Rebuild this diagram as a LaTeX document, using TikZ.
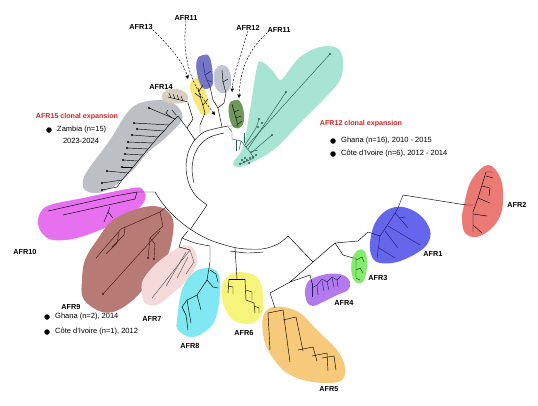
\documentclass[tikz,border=0pt]{standalone}
\usepackage{fontspec}
\setmainfont{Liberation Sans}
\usetikzlibrary{arrows.meta}
\definecolor{cgray}{RGB}{188,191,196}
\definecolor{ctan}{RGB}{216,207,192}
\definecolor{cyel}{RGB}{248,230,120}
\definecolor{cind}{RGB}{118,118,200}
\definecolor{cgrs}{RGB}{192,196,206}
\definecolor{cdgr}{RGB}{112,152,92}
\definecolor{cteal}{RGB}{168,228,210}
\definecolor{cmag}{RGB}{230,112,240}
\definecolor{cbrn}{RGB}{184,122,116}
\definecolor{cpnk}{RGB}{246,218,218}
\definecolor{ccyn}{RGB}{128,232,242}
\definecolor{cyel6}{RGB}{246,244,122}
\definecolor{corg}{RGB}{246,202,122}
\definecolor{cpur}{RGB}{178,122,236}
\definecolor{cgrn}{RGB}{134,236,112}
\definecolor{cblu}{RGB}{102,102,236}
\definecolor{cred}{RGB}{236,122,116}
\definecolor{ctitle}{RGB}{214,36,36}
\definecolor{dteal}{RGB}{40,95,85}
\definecolor{dnavy}{RGB}{30,30,110}
\definecolor{dbrn}{RGB}{70,25,25}
\begin{document}
\begin{tikzpicture}[x=1pt,y=-1pt,
  tree/.style={line width=0.45pt,black},
  lab/.style={font=\fontsize{7.3}{8}\selectfont\bfseries,inner sep=0pt},
  ttl/.style={font=\fontsize{7.1}{8}\selectfont\bfseries,text=ctitle,inner sep=0pt},
  leg/.style={font=\fontsize{7.5}{8}\selectfont,inner sep=0pt,anchor=west},
  bul/.style={circle,fill=black,inner sep=0pt,minimum size=5.5pt},
  tipdot/.style={circle,fill=black,inner sep=0pt,minimum size=2.4pt},
  arr/.style={line width=0.45pt,dash pattern=on 2pt off 1.6pt,-{Triangle[width=3.4pt,length=3.4pt]}}]
\useasboundingbox (0,0) rectangle (538,405);
\fill[white] (0,0) rectangle (538,405);
% ---------------- blobs
\fill[cgray] plot[smooth cycle,tension=0.6] coordinates {(83,180)(90,167)(110,140)(127,113)(140,103)(160,100)(173,103)(182,113)(180,123)(163,140)(147,153)(133,170)(113,187)(97,193)(85,190)};
\fill[ctan] plot[smooth cycle,tension=0.7] coordinates {(162,95)(167,90)(177,89)(186,93)(188,99)(182,103)(170,103)(163,100)};
\fill[cyel] plot[smooth cycle,tension=0.7] coordinates {(190,85)(196,78)(202,82)(208,100)(210,112)(203,115)(197,107)(192,95)};
\fill[cind] plot[smooth cycle,tension=0.7] coordinates {(197,60)(203,55)(210,58)(213,80)(210,88)(202,87)(197,73)};
\fill[cgrs] plot[smooth cycle,tension=0.7] coordinates {(215,70)(222,65)(229,70)(231,85)(225,93)(217,90)(214,80)};
\fill[cdgr] plot[smooth cycle,tension=0.7] coordinates {(229,105)(235,100)(241,103)(244,115)(242,126)(235,128)(230,120)};
\fill[cteal] plot[smooth cycle,tension=0.6] coordinates {(233,163)(243,147)(250,110)(257,67)(262,62)(272,70)(280,80)(287,73)(300,57)(320,47)(337,48)(343,60)(340,80)(323,100)(300,123)(277,147)(257,160)(240,167)};
\fill[cmag] plot[smooth cycle,tension=0.6] coordinates {(40,213)(50,205)(83,198)(133,188)(143,190)(145,200)(133,213)(107,227)(77,238)(53,240)(42,233)(38,223)};
\fill[cbrn] plot[smooth cycle,tension=0.6] coordinates {(82,280)(85,260)(97,240)(113,220)(140,208)(160,207)(172,217)(173,233)(167,257)(153,277)(133,300)(113,312)(97,310)(83,298)};
\fill[cpnk] plot[smooth cycle,tension=0.6] coordinates {(143,280)(157,263)(180,247)(193,248)(197,263)(187,280)(173,293)(157,305)(145,303)(142,293)};
\fill[ccyn] plot[smooth cycle,tension=0.6] coordinates {(177,320)(182,290)(193,273)(207,268)(218,273)(220,293)(215,320)(203,333)(190,337)(178,330)};
\fill[cyel6] plot[smooth cycle,tension=0.6] coordinates {(222,287)(227,277)(240,272)(257,277)(263,293)(262,313)(253,323)(240,323)(230,317)(223,303)};
\fill[corg] plot[smooth cycle,tension=0.6] coordinates {(263,317)(270,308)(283,307)(300,313)(317,330)(337,350)(345,367)(342,380)(327,383)(303,380)(283,370)(268,350)(263,333)};
\fill[cpur] plot[smooth cycle,tension=0.6] coordinates {(305,290)(310,280)(327,274)(343,275)(350,282)(348,290)(337,295)(323,302)(313,306)(307,302)};
\fill[cgrn] plot[smooth cycle,tension=0.7] coordinates {(352,260)(358,250)(365,252)(367,265)(364,280)(357,283)(352,275)};
\fill[cblu] plot[smooth cycle,tension=0.6] coordinates {(370,243)(375,223)(387,210)(403,207)(420,215)(430,230)(428,243)(417,253)(397,262)(380,263)(372,257)};
\fill[cred] plot[smooth cycle,tension=0.6] coordinates {(463,210)(470,183)(483,167)(493,167)(502,183)(502,210)(493,227)(477,237)(465,233)(462,220)};
% ---------------- backbone
\draw[tree] plot[smooth] coordinates {(218,128)(204,132)(194,141)(188,153)(186,168)(189,184)(196,196)(207,205)};
\draw[tree] plot[smooth] coordinates {(224,133)(210,137)(200,145)(194,156)(192,170)(194,183)};
\draw[tree] (218,128) -- (228,126) -- (238,126);
\draw[tree] (207,205) -- (190,230);
\draw[tree] plot[smooth] coordinates {(155,192)(163,204)(175,217)(190,229)(210,240)(237,248)(262,249)(278,244)(288,236)};
\draw[tree] plot[smooth] coordinates {(230,251)(247,253)(263,252)};
\draw[tree] plot[smooth] coordinates {(182,238)(195,243)(210,246)};
\draw[tree] (188,231) -- (182,238);
% ---------------- top subtree
\draw[tree] (195,140) -- (187,128) -- (178,116);
\draw[tree] (187,128) -- (193,119) -- (188,103);
\draw[tree] (200,133) -- (200,125) -- (205,113);
\draw[tree] (222,127) -- (218,108) -- (213,100) -- (210,87);
\draw[tree] (218,108) -- (224,103) -- (226,93);
% AFR15 ladder
\draw[tree] (178,116) -- (175,119) -- (169,125) -- (164,131) -- (158,137) -- (153,143) -- (148,149) -- (143,155) -- (138,161) -- (133,167) -- (128,173) -- (122,180) -- (117,187);
\foreach \px/\py/\tx/\ty in {175/119/149/108, 169/125/134/123, 164/131/137/129, 158/137/132/135, 153/143/128/142, 148/149/127/148, 143/155/125/154, 138/161/123/160, 133/167/122/167, 128/173/107/171, 122/180/102/183, 117/187/102/190}{
  \draw[tree] (\px,\py) -- (\tx,\ty);
  \node[tipdot] at (\tx,\ty) {};
}
\draw[tree] (176,115) -- (172,110); \draw[tree] (172,118) -- (166,113) -- (168,110);
% AFR14
\draw[tree] (188,102) -- (168,97);
\foreach \xx/\yy in {171/98, 175/99, 179/100, 183/101}{\draw[tree] (\xx,\yy) -- (\xx-2,\yy-5);}
% AFR13
\draw[tree] (205,113) -- (198,88);
\draw[tree] (203,105) -- (208,99); \draw[tree] (201,98) -- (195,93); \draw[tree] (199,91) -- (203,85);
% AFR11 indigo
\draw[tree,dnavy] (210,87) -- (205,75) -- (203,62); \draw[tree,dnavy] (205,75) -- (211,71); \draw[tree,dnavy] (207,80) -- (212,82);
% small gray
\draw[tree] (226,93) -- (223,82) -- (222,70); \draw[tree] (223,82) -- (228,79);
% AFR12 green
\draw[tree] (238,126) -- (236,118) -- (233,108) -- (232,104);
\draw[tree] (236,118) -- (241,116); \draw[tree] (234,112) -- (239,110); \draw[tree] (238,124) -- (242,121);
% teal
\draw[tree,dteal] (228,127) -- (232,132) -- (232,139) -- (241,141) -- (250,152) -- (254,158);
\draw[tree,dteal] (246,147) -- (330,54);
\draw[tree,dteal] (248,149) -- (286,92);
\draw[tree,dteal] (251,153) -- (272,135);
\draw[tree,dteal] (245,145) -- (256,128) -- (259,119);
\draw[tree,dteal] (236,140) -- (236,151); \draw[tree,dteal] (244,133) -- (244,143); \draw[tree,dteal] (241,141) -- (239,150);
\draw[tree,dteal] (254,158) -- (240,164); \draw[tree,dteal] (250,152) -- (258,150);
\foreach \xx/\yy in {330/54, 286/92, 272/135, 259/119, 262/123, 258/127, 240/164, 244/162, 247/160, 250/158, 253/157, 245/158, 256/155, 249/163, 242/160}{
  \node[tipdot,fill=dteal] at (\xx,\yy) {};
}
% ---------------- AFR10
\draw[tree] (155,192) -- (137,192) -- (115,196) -- (48,211);
\draw[tree] (137,192) -- (135,199) -- (63,215);
\draw[tree] (110,207) -- (108,212) -- (104,222); \draw[tree] (108,212) -- (113,218);
% AFR9
\draw[tree,dbrn] (166,207) -- (160,212) -- (121,229) -- (96,258);
\draw[tree,dbrn] (125,227) -- (124,235) -- (112,247); \draw[tree,dbrn] (119,232) -- (117,243) -- (106,254);
\draw[tree,dbrn] (160,212) -- (163,226) -- (150,238) -- (148,258);
\draw[tree,dbrn] (150,238) -- (155,244) -- (154,259);
\draw[tree,dbrn] (160,231) -- (103,294);
\node[tipdot,fill=dbrn] at (148,258) {}; \node[tipdot,fill=dbrn] at (154,259) {}; \node[tipdot,fill=dbrn] at (103,294) {};
% AFR7
\draw[tree] (182,238) -- (179,247) -- (190,250);
\draw[tree,black!65] (190,250) -- (152,298); \draw[tree,black!65] (186,252) -- (166,286);
\draw[tree,black!65] (188,257) -- (177,278); \draw[tree,black!65] (190,250) -- (194,262) -- (186,274);
% AFR8
\draw[tree] (210,246) -- (210,262) -- (207,280) -- (197,295) -- (187,300) -- (182,307);
\draw[tree] (207,280) -- (213,287) -- (218,288); \draw[tree] (210,270) -- (216,274) -- (218,282);
\draw[tree] (197,295) -- (201,310); \draw[tree] (187,300) -- (191,323); \draw[tree] (182,307) -- (186,315) -- (188,330);
% AFR6
\draw[tree] (235,248) -- (237,279);
\draw[tree] (229,279) -- (245,279);
\draw[tree] (229,279) -- (228,293); \draw[tree] (228,286) -- (233,287) -- (233,294);
\draw[tree] (245,279) -- (246,300); \draw[tree] (246,290) -- (252,292) -- (252,300);
\draw[tree] (246,300) -- (254,303) -- (255,313); \draw[tree] (254,306) -- (259,308) -- (259,313);
% right subtree
\draw[tree] (288,236) -- (313,262);
\draw[tree] (313,262) -- (290,282) -- (270,293) -- (275,308);
\draw[tree] (290,282) -- (310,275) -- (312,283);
\draw[tree] (313,262) -- (335,243) -- (343,255) -- (353,258);
\draw[tree] (335,243) -- (358,241) -- (368,232) -- (380,236);
% AFR5
\draw[tree] (268,313) -- (283,310); \draw[tree] (268,313) -- (270,350); \draw[tree] (283,310) -- (290,362);
\draw[tree] (283,320) -- (296,317) -- (303,351); \draw[tree] (298,350) -- (313,347) -- (317,361);
\draw[tree] (312,356) -- (327,353) -- (328,371); \draw[tree] (322,358) -- (334,356) -- (336,370);
% AFR4
\draw[tree,dnavy] (312,283) -- (312,297); \draw[tree,dnavy] (312,288) -- (317,285) -- (322,279) -- (327,282) -- (332,277) -- (337,280) -- (341,276);
\draw[tree,dnavy] (317,285) -- (318,295); \draw[tree,dnavy] (322,281) -- (324,291); \draw[tree,dnavy] (327,282) -- (329,290); \draw[tree,dnavy] (332,278) -- (334,287); \draw[tree,dnavy] (337,280) -- (338,287);
% AFR3
\draw[tree,black!70!green] (353,258) -- (356,258) -- (356,278) -- (360,280);
\draw[tree,black!70!green] (356,260) -- (362,257) -- (364,262); \draw[tree,black!70!green] (356,270) -- (360,268) -- (363,273);
% AFR1
\draw[tree,dnavy] (380,236) -- (392,218) -- (398,208) -- (403,195);
\draw[tree,dnavy] (380,236) -- (377,258);
\draw[tree,dnavy] (388,226) -- (420,245); \draw[tree,dnavy] (385,231) -- (398,248);
\draw[tree,dnavy] (379,248) -- (395,258); \draw[tree,dnavy] (395,213) -- (403,222) -- (408,228); \draw[tree,dnavy] (399,218) -- (405,217);
% AFR2
\draw[tree] (403,195) -- (466,205) -- (473,205);
\draw[tree] (473,232) -- (473,212) -- (478,198) -- (482,185) -- (486,172) -- (492,172);
\draw[tree] (473,214) -- (487,216); \draw[tree] (473,225) -- (482,233); \draw[tree] (478,198) -- (490,203);
\draw[tree] (482,186) -- (490,188) -- (489,196); \draw[tree] (486,176) -- (493,178);
% ---------------- labels
\node[lab] (l13) at (141,27) {AFR13};
\node[lab] (l11a) at (186,18) {AFR11};
\node[lab] (l12) at (248,28) {AFR12};
\node[lab] (l11b) at (279,30) {AFR11};
\node[lab] (l14) at (161,87) {AFR14};
\node[lab] (l10) at (25,252) {AFR10};
\node[lab] (l9) at (71,307) {AFR9};
\node[lab] (l7) at (152,319) {AFR7};
\node[lab] (l8) at (190,346) {AFR8};
\node[lab] (l6) at (244,333) {AFR6};
\node[lab] (l5) at (329,389) {AFR5};
\node[lab] (l4) at (344,303) {AFR4};
\node[lab] (l3) at (378,278) {AFR3};
\node[lab] (l1) at (433,254) {AFR1};
\node[lab] (l2) at (517,205) {AFR2};
% arrows
\coordinate (t13) at (188,79);
\coordinate (t11a) at (215,115);
\coordinate (t12) at (232,92);
\coordinate (t11b) at (239,98);
\draw[arr] (l13.south east) .. controls (165,42) and (183,60) .. (t13);
\draw[arr] (l11a.south) .. controls (180,70) and (200,95) .. (t11a);
\draw[arr] (l12.south) .. controls (241,55) and (233,75) .. (t12);
\draw[arr] (l11b.south west) .. controls (252,46) and (240,66) .. (t11b);
% titles and legends
\node[ttl] (t15) at (77,117) {AFR15 clonal expansion};
\node[bul] (b15) at (49,130) {};
\node[leg] (z15) at (57,130) {Zambia (n=15)};
\node[font=\fontsize{7.5}{8}\selectfont,inner sep=0pt] (y15) at (81,141) {2023-2024};
\node[ttl] (t12t) at (361,124) {AFR12 clonal expansion};
\node[bul] (b12a) at (333,141) {};
\node[leg] (g12) at (341,141) {Ghana (n=16), 2010 - 2015};
\node[bul] (b12b) at (333,154) {};
\node[leg] (c12) at (341,154) {Côte d’Ivoire (n=6), 2012 - 2014};
\node[bul] (b9a) at (47,317) {};
\node[leg] (g9) at (55,317) {Ghana (n=2), 2014};
\node[bul] (b9b) at (47,332) {};
\node[leg] (c9) at (55,332) {Côte d’Ivoire (n=1), 2012};
\end{tikzpicture}
\end{document}
